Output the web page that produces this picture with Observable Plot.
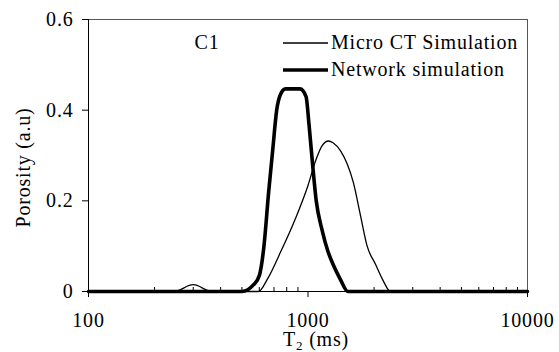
<!DOCTYPE html>
<html>
<head>
<meta charset="utf-8">
<script src="https://cdn.jsdelivr.net/npm/d3@7"></script>
<script src="https://cdn.jsdelivr.net/npm/@observablehq/plot@0.6"></script>
<style>
  body { margin: 0; background: #fff; }
  #chart svg { overflow: visible; }
</style>
</head>
<body>
<div id="chart"></div>
<script>
// T2 relaxation distributions (ms) for sample C1
const microT = [100, 245, 300, 365, 595, 656, 750, 875, 1000, 1086, 1160, 1240, 1300, 1407, 1512, 1610, 1730, 1860, 2030, 2200, 2375, 10000];
const microV = [0, 0, 0.015, 0, 0, 0.029, 0.087, 0.16, 0.234, 0.29, 0.322, 0.332, 0.328, 0.31, 0.28, 0.24, 0.17, 0.1, 0.06, 0.024, 0, 0];

const netT = [100, 500, 565, 600, 630, 662, 690, 720, 750, 790, 920, 980, 1010, 1045, 1090, 1160, 1230, 1300, 1400, 1520, 10000];
const netV = [0, 0, 0.015, 0.035, 0.1, 0.22, 0.31, 0.4, 0.435, 0.447, 0.447, 0.43, 0.37, 0.29, 0.2, 0.135, 0.09, 0.06, 0.028, 0, 0];

const majorTicks = [100, 1000, 10000];
const minorTicks = [200, 300, 400, 500, 600, 700, 800, 900, 2000, 3000, 4000, 5000, 6000, 7000, 8000, 9000];
const yTicks = [0, 0.2, 0.4, 0.6];

const seriesNames = ["Micro CT Simulation", "Network simulation"];
const sampleLabel = "C1";
const yLabel = "Porosity (a.u)";

const micro = microT.map((t, i) => ({t, v: microV[i]}));
const net = netT.map((t, i) => ({t, v: netV[i]}));

const font = `"Liberation Serif", "Times New Roman", Times, serif`;

const chart = Plot.plot({
  width: 559,
  height: 352,
  marginLeft: 88,
  marginRight: 32,
  marginTop: 19,
  marginBottom: 61,
  style: {fontFamily: font, fontSize: "20px", background: "#fff", color: "#000", letterSpacing: "0.8px"},
  x: {type: "log", domain: [100, 10000], label: null},
  y: {domain: [0, 0.6], label: null},
  marks: [
    Plot.frame({stroke: "#555"}),
    Plot.axisX(minorTicks, {tickSize: -4, tickFormat: () => "", label: null}),
    Plot.axisX(majorTicks, {tickSize: 6, tickPadding: 15, tickFormat: d => String(d), label: null}),
    Plot.axisY(yTicks, {tickSize: 6, tickPadding: 9, tickFormat: d => d === 0 ? "0" : d.toFixed(1), label: null}),
    Plot.ruleX([100], {stroke: "#000"}),
    Plot.ruleY([0], {stroke: "#000"}),
    Plot.line(micro, {x: "t", y: "v", stroke: "#000", strokeWidth: 1.3, curve: "monotone-x"}),
    Plot.line(net, {x: "t", y: "v", stroke: "#000", strokeWidth: 3.6, curve: "monotone-x"}),
    Plot.text([sampleLabel], {text: d => d, frameAnchor: "top-left", textAnchor: "start", lineAnchor: "middle", dx: 106, dy: 23}),
    Plot.text([yLabel], {text: d => d, frameAnchor: "left", textAnchor: "middle", lineAnchor: "middle", rotate: -90, dx: -65, dy: 12})
  ]
});

document.getElementById("chart").append(chart);

// Legend and x-axis title (with subscript) drawn into the same SVG
const svg = d3.select(chart);
const legend = svg.append("g")
  .attr("font-family", font)
  .attr("font-size", 20)
  .attr("text-anchor", "start")
  .style("letter-spacing", "0.8px");
const legendRows = [
  {name: seriesNames[0], width: 1.3, y: 43},
  {name: seriesNames[1], width: 3.6, y: 70}
];
legendRows.forEach(r => {
  legend.append("line")
    .attr("x1", 283).attr("x2", 328)
    .attr("y1", r.y).attr("y2", r.y)
    .attr("stroke", "#000").attr("stroke-width", r.width);
  legend.append("text")
    .attr("x", 331).attr("y", r.y + 6)
    .attr("text-anchor", "start")
    .attr("fill", "#000")
    .text(r.name);
});

const xt = svg.append("text")
  .attr("x", 316).attr("y", 346)
  .attr("text-anchor", "middle")
  .attr("font-family", font)
  .attr("font-size", 20)
  .style("letter-spacing", "0.8px")
  .attr("fill", "#000");
xt.append("tspan").text("T");
xt.append("tspan").attr("font-size", 13).attr("dy", 4).text("2");
xt.append("tspan").attr("dy", -4).text(" (ms)");
</script>
</body>
</html>
